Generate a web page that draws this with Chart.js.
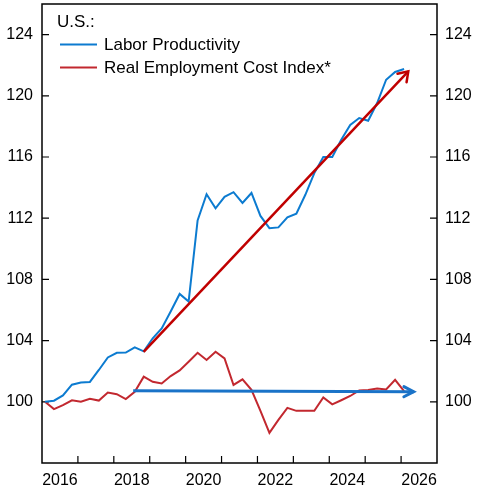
<!DOCTYPE html>
<html lang="en">
<head>
<meta charset="UTF-8">
<script src="https://cdn.jsdelivr.net/npm/chart.js"></script>
<title>Labor Productivity vs Real ECI</title>
<style>
    body { margin: 0; background: #fff; }
    #wrap { width: 477px; height: 494px; }
</style>
</head>
<body>
<div id="wrap"><canvas id="chart" width="477" height="494"></canvas></div>
<script>
    // quarterly data, index = 100 at 2016Q1
    const quarters = [
        '2016Q1', '2016Q2', '2016Q3', '2016Q4', '2017Q1', '2017Q2', '2017Q3', '2017Q4',
        '2018Q1', '2018Q2', '2018Q3', '2018Q4', '2019Q1', '2019Q2', '2019Q3', '2019Q4',
        '2020Q1', '2020Q2', '2020Q3', '2020Q4', '2021Q1', '2021Q2', '2021Q3', '2021Q4',
        '2022Q1', '2022Q2', '2022Q3', '2022Q4', '2023Q1', '2023Q2', '2023Q3', '2023Q4',
        '2024Q1', '2024Q2', '2024Q3', '2024Q4', '2025Q1', '2025Q2', '2025Q3', '2025Q4',
        '2026Q1'
    ];
    const productivity = [
        100.0, 100.07, 100.42, 101.12, 101.26, 101.3, 102.08, 102.9,
        103.2, 103.22, 103.56, 103.3, 104.15, 104.8, 105.9, 107.05,
        106.55, 111.85, 113.57, 112.65, 113.4, 113.7, 113.0, 113.65,
        112.15, 111.35, 111.4, 112.05, 112.3, 113.53, 114.95, 116.0,
        116.0, 117.13, 118.1, 118.55, 118.37, 119.53, 121.05, 121.56,
        121.75
    ];
    const realECI = [
        100.0, 99.52, 99.78, 100.1, 100.0, 100.2, 100.08, 100.6,
        100.5, 100.18, 100.65, 101.64, 101.31, 101.2, 101.68, 102.05,
        102.62, 103.2, 102.73, 103.27, 102.84, 101.1, 101.47, 100.78,
        99.4, 97.97, 98.82, 99.6, 99.41, 99.41, 99.41, 100.29,
        99.83, 100.1, 100.38, 100.74, 100.77, 100.87, 100.81, 101.44,
        100.7
    ];
    // trend arrows
    const prodTrendYears = [2018.83, 2026.2];
    const prodTrend = [103.27, 121.6];
    const eciTrendYears = [2018.54, 2026.35];
    const eciTrend = [100.72, 100.66];

    const yTicks = [100, 104, 108, 112, 116, 120, 124];
    const xLabelYears = [2016, 2018, 2020, 2022, 2024, 2026];
    const xTickYears = [2017, 2018, 2019, 2020, 2021, 2022, 2023, 2024, 2025, 2026];

    const FONT = "'Liberation Sans', Arial, sans-serif";

    function quarterToYear(q) {
        const year = parseInt(q.slice(0, 4));
        const n = parseInt(q.slice(5));
        return year + (n - 1) * 0.25 + 1 / 12;
    }

    function toPoints(xs, ys) {
        return ys.map((y, i) => ({ x: xs[i], y: y }));
    }

    // keep the plot box exactly where we size it
    function fixBox(s, w, h) {
        if (w !== null) s.width = w;
        if (h !== null) s.height = h;
        s.paddingTop = 0;
        s.paddingBottom = 0;
        s.paddingLeft = 0;
        s.paddingRight = 0;
    }

    const qYears = quarters.map(quarterToYear);

    const framePlugin = {
        id: 'frame',
        beforeDatasetsDraw(chart) {
            const { ctx, chartArea: a, scales } = chart;
            ctx.save();
            ctx.strokeStyle = '#000';
            ctx.lineWidth = 1.5;
            ctx.strokeRect(a.left, a.top, a.right - a.left, a.bottom - a.top);
            ctx.lineWidth = 1.2;
            ctx.beginPath();
            yTicks.forEach(v => {
                const py = scales.y.getPixelForValue(v);
                ctx.moveTo(a.left, py);
                ctx.lineTo(a.left + 7, py);
                ctx.moveTo(a.right, py);
                ctx.lineTo(a.right - 7, py);
            });
            xTickYears.forEach(v => {
                const px = scales.x.getPixelForValue(v);
                ctx.moveTo(px, a.bottom);
                ctx.lineTo(px, a.bottom - 7);
            });
            ctx.stroke();
            ctx.restore();
        }
    };

    const arrowPlugin = {
        id: 'arrowHeads',
        afterDatasetsDraw(chart) {
            const ctx = chart.ctx;
            chart.data.datasets.forEach((ds, i) => {
                if (!ds.arrowHead) return;
                const pts = chart.getDatasetMeta(i).data;
                const p1 = pts[pts.length - 2], p2 = pts[pts.length - 1];
                const ang = Math.atan2(p2.y - p1.y, p2.x - p1.x);
                const len = ds.arrowHead.len, spread = ds.arrowHead.spread;
                ctx.save();
                ctx.strokeStyle = ds.borderColor;
                ctx.lineWidth = ds.borderWidth;
                ctx.lineCap = 'round';
                ctx.lineJoin = 'miter';
                ctx.beginPath();
                ctx.moveTo(p2.x - len * Math.cos(ang - spread), p2.y - len * Math.sin(ang - spread));
                ctx.lineTo(p2.x, p2.y);
                ctx.lineTo(p2.x - len * Math.cos(ang + spread), p2.y - len * Math.sin(ang + spread));
                ctx.stroke();
                ctx.restore();
            });
        }
    };

    const legendPlugin = {
        id: 'insideLegend',
        afterDraw(chart) {
            const ctx = chart.ctx;
            ctx.save();
            ctx.font = '17px ' + FONT;
            ctx.fillStyle = '#000';
            ctx.textBaseline = 'alphabetic';
            ctx.fillText('U.S.:', 57, 27);
            const rows = [
                { label: 'Labor Productivity', color: chart.data.datasets[2].borderColor, y: 44.5 },
                { label: 'Real Employment Cost Index*', color: chart.data.datasets[3].borderColor, y: 67.5 }
            ];
            rows.forEach(r => {
                ctx.strokeStyle = r.color;
                ctx.lineWidth = 2;
                ctx.beginPath();
                ctx.moveTo(60, r.y);
                ctx.lineTo(97, r.y);
                ctx.stroke();
                ctx.fillText(r.label, 104, r.y + 5.5);
            });
            ctx.restore();
        }
    };

    const tickFont = { family: FONT, size: 16 };

    new Chart(document.getElementById('chart'), {
        type: 'line',
        data: {
            datasets: [
                {
                    label: 'Productivity trend',
                    data: toPoints(prodTrendYears, prodTrend),
                    borderColor: '#c00000',
                    borderWidth: 2.5,
                    arrowHead: { len: 11, spread: 0.6 }
                },
                {
                    label: 'ECI trend',
                    data: toPoints(eciTrendYears, eciTrend),
                    borderColor: '#1a73c8',
                    borderWidth: 3,
                    arrowHead: { len: 11, spread: 0.48 }
                },
                {
                    label: 'Labor Productivity',
                    data: toPoints(qYears, productivity),
                    borderColor: '#0c7bd0',
                    borderWidth: 2
                },
                {
                    label: 'Real Employment Cost Index*',
                    data: toPoints(qYears, realECI),
                    borderColor: '#c2282f',
                    borderWidth: 2
                }
            ]
        },
        options: {
            responsive: false,
            animation: false,
            layout: { padding: { top: 4, left: 0, right: 0, bottom: 0 } },
            elements: {
                point: { radius: 0 },
                line: { tension: 0, fill: false }
            },
            plugins: {
                legend: { display: false },
                tooltip: { enabled: false }
            },
            scales: {
                x: {
                    type: 'linear',
                    min: 2016,
                    max: 2027,
                    afterBuildTicks: s => { s.ticks = xLabelYears.map(v => ({ value: v + 0.5 })); },
                    afterFit: s => fixBox(s, null, 31),
                    ticks: {
                        font: tickFont,
                        color: '#000',
                        padding: 8,
                        maxRotation: 0,
                        autoSkip: false,
                        callback: v => String(Math.floor(v))
                    },
                    grid: { display: false, drawTicks: false },
                    border: { display: false }
                },
                y: {
                    position: 'left',
                    min: 96,
                    max: 126,
                    afterBuildTicks: s => { s.ticks = yTicks.map(v => ({ value: v })); },
                    afterFit: s => fixBox(s, 42, null),
                    ticks: { font: tickFont, color: '#000', padding: 9 },
                    grid: { display: false, drawTicks: false },
                    border: { display: false }
                },
                y2: {
                    position: 'right',
                    min: 96,
                    max: 126,
                    afterBuildTicks: s => { s.ticks = yTicks.map(v => ({ value: v })); },
                    afterFit: s => fixBox(s, 40, null),
                    ticks: { font: tickFont, color: '#000', padding: 8 },
                    grid: { display: false, drawTicks: false },
                    border: { display: false }
                }
            }
        },
        plugins: [framePlugin, arrowPlugin, legendPlugin]
    });
</script>
</body>
</html>
